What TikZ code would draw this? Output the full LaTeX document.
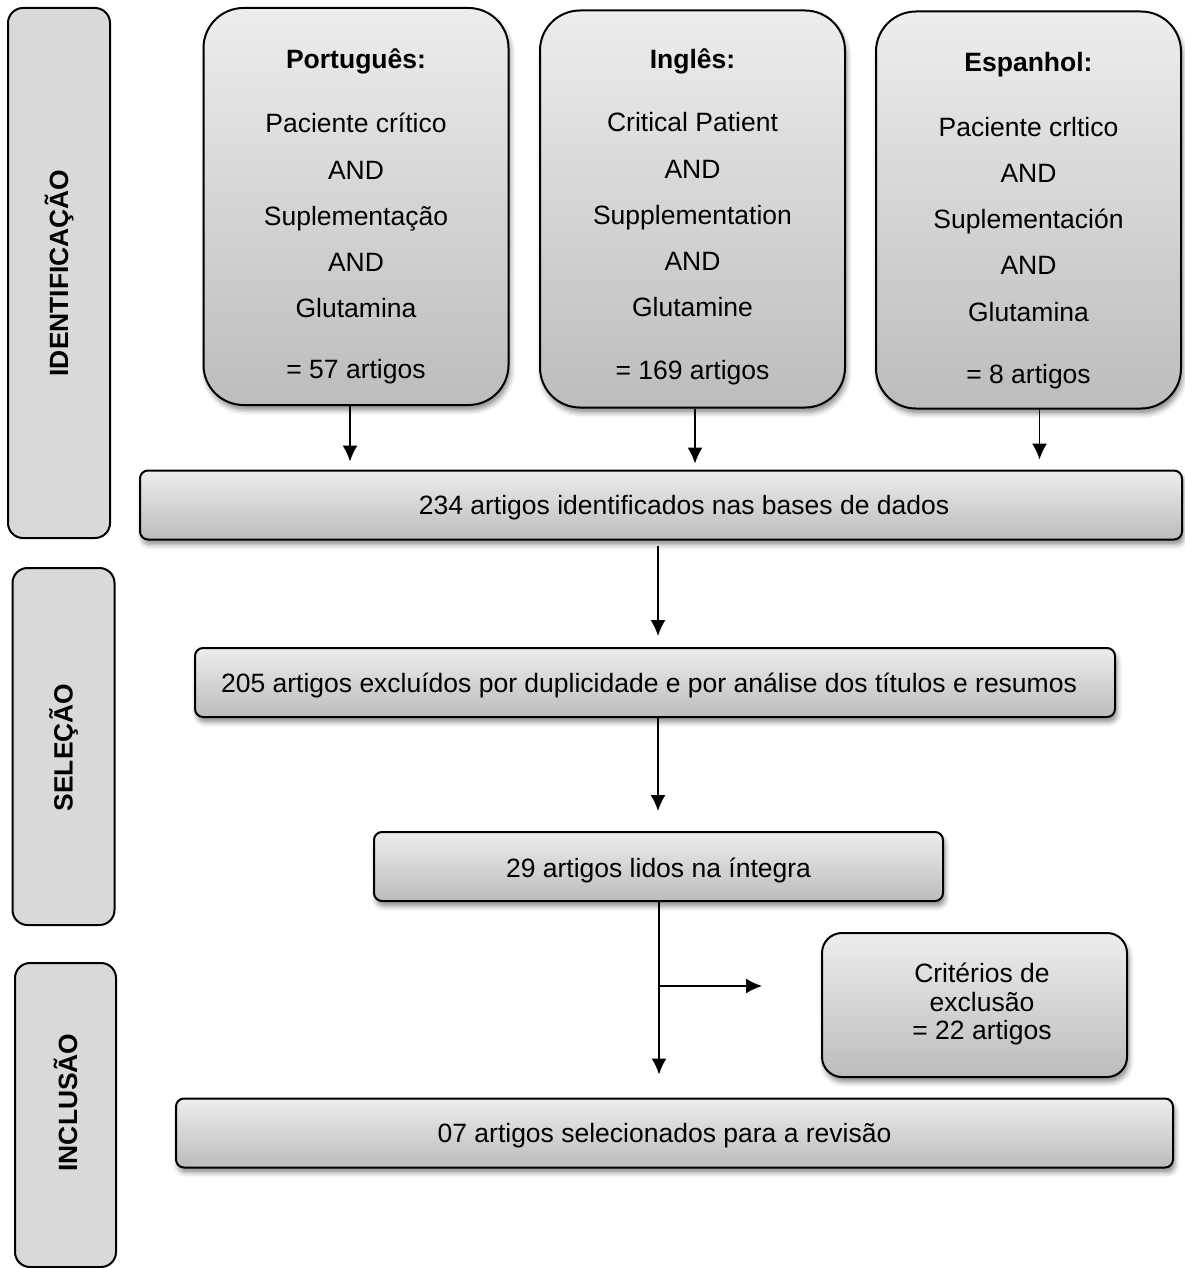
\documentclass[tikz,border=0pt]{standalone}
\usepackage{fontspec}
\setmainfont{Liberation Sans}
\usetikzlibrary{shadows.blur,arrows.meta,calc}
\definecolor{phasegray}{HTML}{D9D9D9}
\definecolor{boxtop}{HTML}{EDEDED}
\definecolor{boxbot}{HTML}{BCBCBC}
\begin{document}
\begin{tikzpicture}[x=0.5pt,y=-0.5pt,
  phase/.style={draw=black, line width=1pt, fill=phasegray, rounded corners=7.5pt,
    inner sep=0pt, rotate=90, font=\bfseries\fontsize{13.2}{15}\selectfont},
  gbox/.style={draw=black, line width=1pt, top color=boxtop, bottom color=boxbot,
    blur shadow={shadow xshift=1pt, shadow yshift=-2.5pt, shadow blur radius=2.5pt, shadow opacity=45},
    inner sep=0pt, align=center},
  tallbox/.style={gbox, rounded corners=20pt, minimum width=152.5pt, minimum height=198.5pt,
    font=\fontsize{13.25}{23.1}\selectfont},
  widebox/.style={gbox, rounded corners=4pt, minimum height=34.5pt,
    font=\fontsize{13.25}{16}\selectfont},
  critbox/.style={gbox, rounded corners=10pt, minimum width=152.5pt, minimum height=72pt,
    font=\fontsize{13.25}{14.25}\selectfont},
  arr/.style={line width=0.75pt, -{Latex[length=8pt,width=7.5pt]}}
]
\useasboundingbox (0,0) rectangle (1184,1268);

% phase boxes
\node[phase, minimum width=265pt, minimum height=51pt] (pid) at (59,273) {IDENTIFICAÇÃO};
\node[phase, minimum width=178.5pt, minimum height=51pt] (psel) at (63.5,746.5) {SELEÇÃO\hspace*{1pt}};
\node[phase, minimum width=152pt, minimum height=50.5pt] (pinc) at (65.5,1115) {\hspace*{12.5pt}INCLUSÃO};

% search boxes
\node[tallbox] (port) at (356,206.5)
  {\rule{0pt}{20pt}\textbf{Português:}\\[9pt] Paciente crítico\\ AND\\ Suplementação\\ AND\\ Glutamina\\[7.5pt] = 57 artigos};
\node[tallbox] (ing) at (692.5,209)
  {\rule{0pt}{18pt}\textbf{Inglês:}\\[8.4pt] Critical Patient\\ AND\\ Supplementation\\ AND\\ Glutamine\\[8.4pt] = 169 artigos};
\node[tallbox] (esp) at (1028.5,210)
  {\rule{0pt}{20pt}\textbf{Espanhol:}\\[9.4pt] Paciente crltico\\ AND\\ Suplementación\\ AND\\ Glutamina\\[7.9pt] = 8 artigos};

% flow boxes
\node[widebox, minimum width=521pt] (b234) at (661,505) {\rule{0pt}{12.5pt}\hspace*{23pt}234 artigos identificados nas bases de dados};
\node[widebox, minimum width=460pt] (b205) at (655,682.5) {\rule{0pt}{12.5pt}205 artigos excluídos por duplicidade e por análise dos títulos e resumos\hspace*{6pt}};
\node[widebox, minimum width=284.5pt] (b29) at (658.5,866.5) {\rule{0pt}{13.5pt}29 artigos lidos na íntegra};
\node[critbox] (crit) at (974.5,1005)
  {\hspace*{7.5pt}Critérios de\\ \hspace*{7.5pt}exclusão\\ \hspace*{7.5pt}= 22 artigos\rule[-3.5pt]{0pt}{0pt}};
\node[widebox, minimum width=498.5pt] (b07) at (674.5,1133) {\rule{0pt}{12.5pt}07 artigos selecionados para a revisão\hspace*{10pt}};

% connectors
\coordinate (pa) at ($(port.south)+(-6,0)$);
\coordinate (ia) at ($(ing.south)+(2.5,0)$);
\coordinate (ea) at ($(esp.south)+(11,0)$);
\draw[arr, shorten >=4pt] (pa) -- (pa |- b234.north);
\draw[arr, shorten >=3pt] (ia) -- (ia |- b234.north);
\draw[arr, shorten >=5pt] (ea) -- (ea |- b234.north);

\coordinate (s1) at ($(b234.south)+(-3,0)$);
\draw[arr, shorten <=2.5pt, shorten >=5.5pt] (s1) -- (s1 |- b205.north);
\coordinate (s2) at ($(b205.south)+(3,0)$);
\draw[arr, shorten >=10pt] (s2) -- (s2 |- b29.north);
\coordinate (s3) at ($(b29.south)+(0.5,0)$);
\draw[arr, shorten >=11.5pt] (s3) -- (s3 |- b07.north);
\coordinate (br) at ($(s3)+(0,84)$);
\draw[arr, shorten >=29.5pt] (br) -- (br -| crit.west);
\end{tikzpicture}
\end{document}
